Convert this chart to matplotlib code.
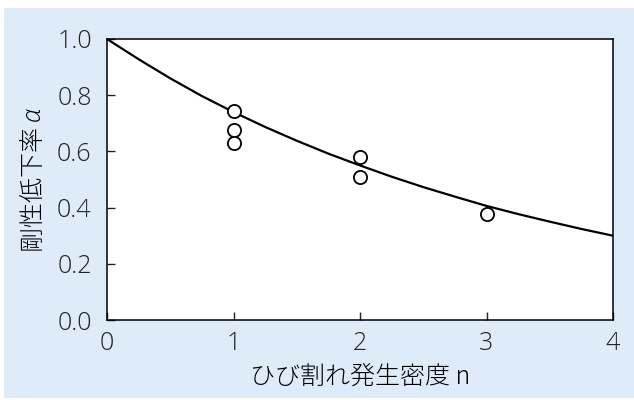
import matplotlib.pyplot as plt
from matplotlib.patches import Rectangle

plt.rcParams['font.family'] = ['Noto Sans CJK JP', 'DejaVu Sans']
plt.rcParams['mathtext.fontset'] = 'custom'
plt.rcParams['mathtext.it'] = 'Open Sans:italic:light'
plt.rcParams['mathtext.rm'] = 'Open Sans:light'

# 曲線 (読み取り値)
curve_n = [0, 0.25, 0.5, 0.75, 1.0, 1.25, 1.5, 1.75, 2.0, 2.25, 2.5, 2.75, 3.0, 3.25, 3.5, 3.75, 4.0]
curve_a = [1.0, 0.928, 0.86, 0.797, 0.74, 0.687, 0.638, 0.592, 0.55, 0.51, 0.473, 0.439, 0.406, 0.377, 0.35, 0.324, 0.30]

# 実験値
exp_n = [1, 1, 1, 2, 2, 3]
exp_a = [0.745, 0.676, 0.629, 0.579, 0.508, 0.376]

xticks = [0, 1, 2, 3, 4]
yticks = [0.0, 0.2, 0.4, 0.6, 0.8, 1.0]

fig = plt.figure(figsize=(6.34, 4.0), dpi=100)
fig.patch.set_facecolor('white')
fig.patches.append(Rectangle((4 / 634, 2 / 400), 630 / 634, 390 / 400,
                             transform=fig.transFigure, facecolor='#deebf8',
                             edgecolor='none', zorder=-10))

ax = fig.add_axes([107 / 634, 80 / 400, 506 / 634, 281 / 400])
ax.set_zorder(1)
ax.set_facecolor('white')
ax.plot(curve_n, curve_a, color='black', lw=1.6, zorder=2)
ax.plot(exp_n, exp_a, 'o', mfc='white', mec='black', mew=1.3, ms=9.5, zorder=3)

ax.set_xlim(0, 4)
ax.set_ylim(0, 1.0)
ax.set_xticks(xticks)
ax.set_yticks(yticks)
tick_font = dict(family=['Open Sans', 'DejaVu Sans'], weight='light', size=18)
ax.set_xticklabels([str(v) for v in xticks], **tick_font)
ax.set_yticklabels(['%.1f' % v for v in yticks], **tick_font)
ax.tick_params(direction='in', length=6, width=1,
               top=False, right=False, colors='#222222')
ax.tick_params(axis='x', pad=8)
ax.tick_params(axis='y', pad=11)
for s in ax.spines.values():
    s.set_linewidth(1.1)

ax.set_xlabel('ひび割れ発生密度 n', fontsize=18, weight='light', labelpad=5)
ax.set_ylabel('剛性低下率 $\\mathit{\\alpha}$', fontsize=18, weight='light', labelpad=7)

fig.savefig('out.png', dpi=100)
